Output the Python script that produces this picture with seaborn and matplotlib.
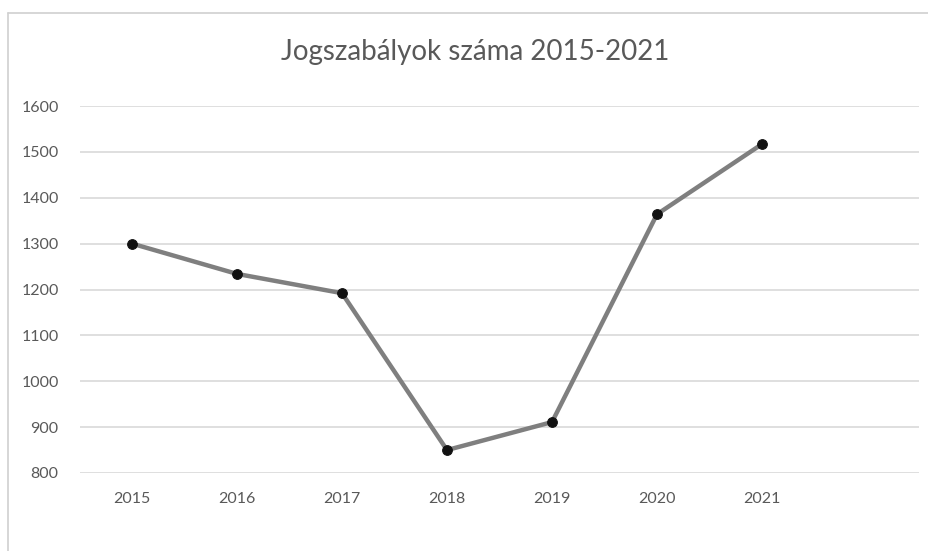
import matplotlib
matplotlib.use("Agg")
import matplotlib.pyplot as plt
import seaborn as sns
import pandas as pd

# data
years = ["2015", "2016", "2017", "2018", "2019", "2020", "2021"]
counts = [1300, 1234, 1192, 850, 911, 1364, 1517]
y_ticks = [800, 900, 1000, 1100, 1200, 1300, 1400, 1500, 1600]

sns.set_style("white")
plt.rcParams['font.family'] = ['Lato', 'DejaVu Sans']

df = pd.DataFrame({"year": years, "count": counts})

fig = plt.figure(figsize=(9.29, 5.51), dpi=100)
ax = fig.add_axes([79.5 / 929, 1 - 473 / 551, 840 / 929, 367 / 551])

sns.lineplot(data=df, x="year", y="count", ax=ax, color="#7f7f7f", linewidth=3.2,
             marker="o", markersize=7, markerfacecolor="#111111", markeredgecolor="#111111",
             zorder=3)

ax.set_xlim(-0.5, 7.5)
ax.set_ylim(800, 1600)
ax.set_yticks(y_ticks)
ax.set_xticks(range(len(years)))
ax.set_xticklabels(years)
ax.yaxis.grid(True, color="#d9d9d9", linewidth=1.2)
ax.xaxis.grid(False)
for s in ax.spines.values():
    s.set_visible(False)
ax.tick_params(axis="both", length=0, labelsize=11.5, colors="#595959")
ax.tick_params(axis="y", pad=15)
ax.tick_params(axis="x", pad=14)
ax.set_xlabel("")
ax.set_ylabel("")

fig.text(475 / 929, 1 - 52 / 551, "Jogszabályok száma 2015-2021", ha="center", va="center",
         fontsize=20, color="#595959")

# outer chart frame (left and top edges visible)
fig.add_artist(plt.Line2D([8 / 929, 8 / 929], [0, 1 - 13 / 551], color="#d0d0d0", linewidth=1.2))
fig.add_artist(plt.Line2D([8 / 929, 1], [1 - 13 / 551, 1 - 13 / 551], color="#d0d0d0", linewidth=1.2))

fig.savefig("out.png", dpi=100)
